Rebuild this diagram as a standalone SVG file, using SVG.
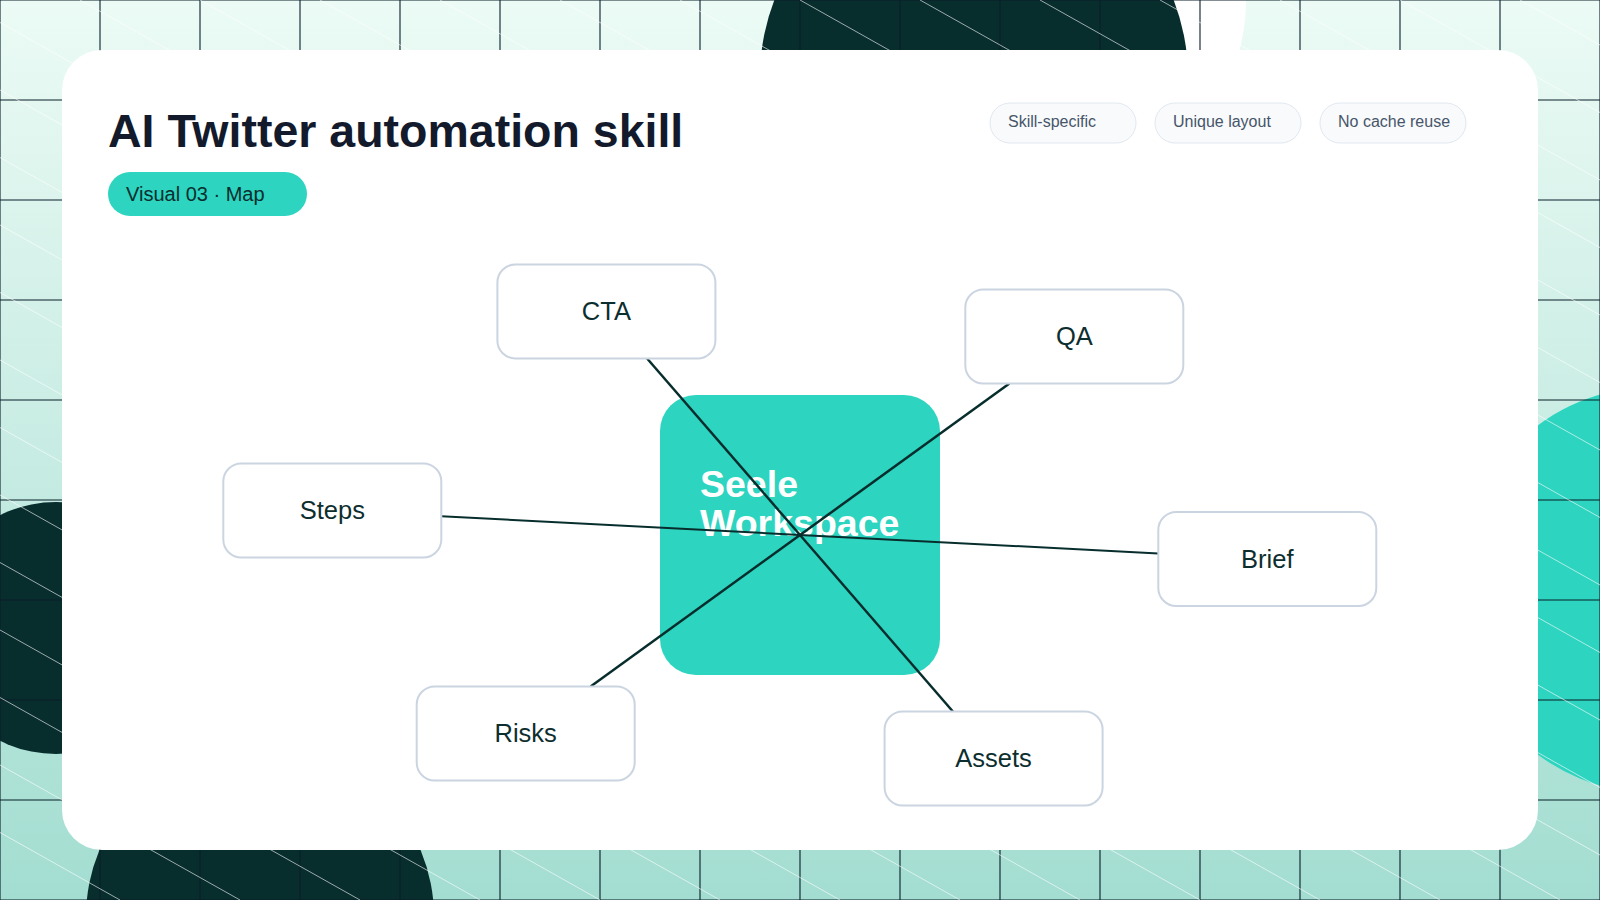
<svg xmlns="http://www.w3.org/2000/svg" width="1600" height="900" viewBox="0 0 1600 900">
  <defs>
    <linearGradient id="bg" x1="0" y1="0" x2="0" y2="1">
      <stop offset="0" stop-color="#ecfbf5"/>
      <stop offset="1" stop-color="#a3ddd1"/>
    </linearGradient>
    <style>
      .grid { fill: none; stroke: #0b1f2a; stroke-width: 1.1; }
      .diag { fill: none; stroke: #ffffff; stroke-width: 1; stroke-opacity: 0.6; }
      .dark { fill: #082d2d; }
      .chip rect { fill: #f8fafc; stroke: #e2e8f0; stroke-width: 1; }
      .chip text { font-family: "Liberation Sans", Arial, sans-serif; font-size: 16px; fill: #475569; }
      .node rect { fill: #ffffff; stroke: #cbd5e1; stroke-width: 2; }
      .node text { font-family: "Liberation Sans", Arial, sans-serif; font-size: 25.5px; fill: #0d2e2e; text-anchor: middle; }
      .conn { stroke: #082d2d; stroke-width: 2.5; fill: none; stroke-linecap: butt; }
    </style>
  </defs>

  <!-- background -->
  <rect x="0" y="0" width="1600" height="900" fill="url(#bg)"/>
  <circle cx="1050" cy="0" r="196" fill="#ffffff"/>
  <circle class="dark" cx="974" cy="77" r="214"/>
  <circle class="dark" cx="56" cy="628" r="126"/>
  <circle class="dark" cx="260" cy="917" r="174"/>
  <circle cx="1658" cy="590" r="204" fill="#2dd4bf"/>
  <path class="grid" d="M0 0V900M100 0V900M200 0V900M300 0V900M400 0V900M500 0V900M600 0V900M700 0V900M800 0V900M900 0V900M1000 0V900M1100 0V900M1200 0V900M1300 0V900M1400 0V900M1500 0V900M1600 0V900M0 0H1600M0 100H1600M0 200H1600M0 300H1600M0 400H1600M0 500H1600M0 600H1600M0 700H1600M0 800H1600M0 900H1600"/>
  <path class="diag" d="M-1600 0L0 900M-1480 0L120 900M-1360 0L240 900M-1240 0L360 900M-1120 0L480 900M-1000 0L600 900M-880 0L720 900M-760 0L840 900M-640 0L960 900M-520 0L1080 900M-400 0L1200 900M-280 0L1320 900M-160 0L1440 900M-40 0L1560 900M80 0L1680 900M200 0L1800 900M320 0L1920 900M440 0L2040 900M560 0L2160 900M680 0L2280 900M800 0L2400 900M920 0L2520 900M1040 0L2640 900M1160 0L2760 900M1280 0L2880 900M1400 0L3000 900M1520 0L3120 900"/>

  <!-- card -->
  <rect x="62" y="50" width="1476" height="800" rx="40" fill="#ffffff"/>

  <!-- header -->
  <text x="108" y="147" font-family="'Liberation Sans', Arial, sans-serif" font-size="46.5" font-weight="700" fill="#121a2c">AI Twitter automation skill</text>
  <g id="tag">
    <rect x="108" y="172" width="199" height="44" rx="22" fill="#2dd4bf"/>
    <text x="126" y="200.5" font-family="'Liberation Sans', Arial, sans-serif" font-size="20" fill="#0a2e2e">Visual 03 · Map</text>
  </g>
  <g id="chip-1" class="chip">
    <rect x="990" y="103" width="146" height="40" rx="20"/>
    <text x="1008" y="127">Skill-specific</text>
  </g>
  <g id="chip-2" class="chip">
    <rect x="1155" y="103" width="146" height="40" rx="20"/>
    <text x="1173" y="127">Unique layout</text>
  </g>
  <g id="chip-3" class="chip">
    <rect x="1320" y="103" width="146" height="40" rx="20"/>
    <text x="1338" y="127">No cache reuse</text>
  </g>

  <!-- center node -->
  <g id="node-center">
    <rect x="660" y="395" width="280" height="280" rx="36" fill="#2dd4bf"/>
    <text font-family="'Liberation Sans', Arial, sans-serif" font-size="37.5" font-weight="700" fill="#ffffff">
      <tspan x="700" y="497">Seele</tspan>
      <tspan x="700" y="536">Workspace</tspan>
    </text>
  </g>

  <!-- connectors -->
  <g id="connectors">
    <line class="conn" x1="800" y1="535" x2="647.1" y2="358.5"/>
    <line class="conn" x1="800" y1="535" x2="1009.4" y2="383.5"/>
    <line class="conn" x1="800" y1="535" x2="1158.3" y2="553.4" style="stroke-width:2"/>
    <line class="conn" x1="800" y1="535" x2="952.9" y2="711.5"/>
    <line class="conn" x1="800" y1="535" x2="590.6" y2="686.5"/>
    <line class="conn" x1="800" y1="535" x2="441.3" y2="516.2" style="stroke-width:2"/>
  </g>

  <!-- satellite nodes -->
  <g id="node-cta" class="node">
    <rect x="497.4" y="264.5" width="218" height="94" rx="18"/>
    <text x="606.4" y="320">CTA</text>
  </g>
  <g id="node-qa" class="node">
    <rect x="965.3" y="289.5" width="218" height="94" rx="18"/>
    <text x="1074.3" y="345">QA</text>
  </g>
  <g id="node-brief" class="node">
    <rect x="1158.3" y="512" width="218" height="94" rx="18"/>
    <text x="1267.3" y="567.5">Brief</text>
  </g>
  <g id="node-assets" class="node">
    <rect x="884.6" y="711.5" width="218" height="94" rx="18"/>
    <text x="993.6" y="767">Assets</text>
  </g>
  <g id="node-risks" class="node">
    <rect x="416.7" y="686.5" width="218" height="94" rx="18"/>
    <text x="525.7" y="742">Risks</text>
  </g>
  <g id="node-steps" class="node">
    <rect x="223.3" y="463.5" width="218" height="94" rx="18"/>
    <text x="332.3" y="519">Steps</text>
  </g>
</svg>
